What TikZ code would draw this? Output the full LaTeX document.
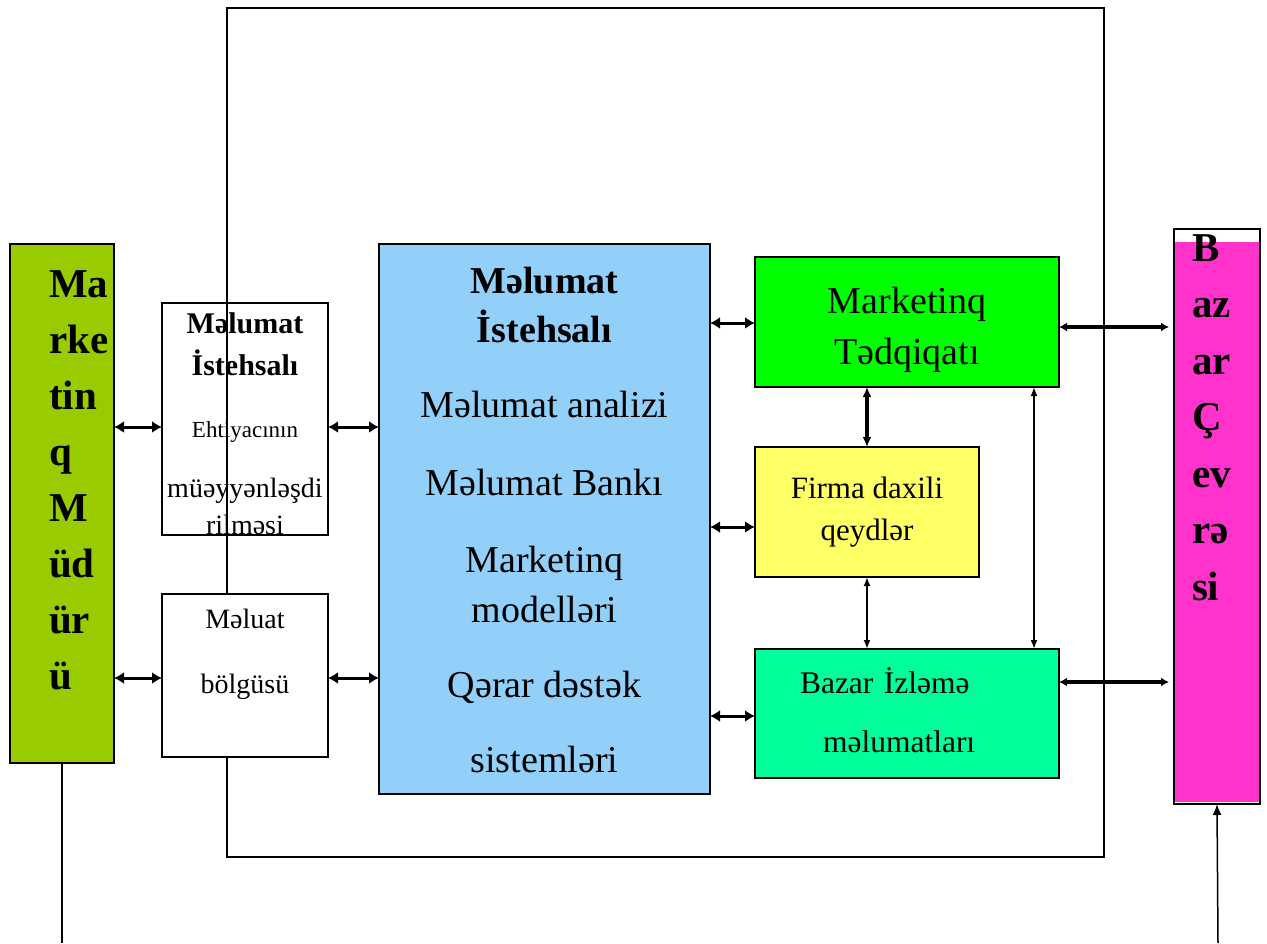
\documentclass[tikz,border=0pt]{standalone}
\usepackage{fontspec}
\setmainfont{Liberation Serif}
\usetikzlibrary{arrows.meta}
\definecolor{mgrgreen}{HTML}{99CC00}
\definecolor{prodblue}{HTML}{92D0F9}
\definecolor{resgreen}{HTML}{00FF00}
\definecolor{recyellow}{HTML}{FFFF66}
\definecolor{mongreen}{HTML}{00FF99}
\definecolor{envpink}{HTML}{FF33CC}
\tikzset{
    % Standard box, anchored at its top left corner
    infobox/.style={
        rectangle,
        draw=black,
        line width=1.5pt,
        fill=#1,
        inner sep=0pt,
        outer sep=0pt,
        anchor=north west,
        align=center
    },
    infobox/.default=white,
    % Arrow styles
    bigarrow/.style={
        {Latex[length=10pt,width=12pt]}-{Latex[length=10pt,width=12pt]},
        line width=3pt
    },
    sidearrow/.style={
        {Latex[length=8pt,width=9pt]}-{Latex[length=8pt,width=9pt]},
        line width=3.2pt
    },
    tallarrow/.style={
        {Latex[length=10pt,width=9pt]}-{Latex[length=10pt,width=9pt]},
        line width=3.8pt
    },
    smallarrow/.style={
        {Latex[length=9pt,width=7pt]}-{Latex[length=9pt,width=7pt]},
        line width=1.8pt
    }
}

\begin{document}
\begin{tikzpicture}[x=1pt, y=-1pt]
    \useasboundingbox (0,0) rectangle (1267,943);

    % Outer frame
    \node[infobox=none, line width=1.7pt, minimum width=877pt, minimum height=849pt] (frame) at (227,8) {};

    % Manager
    \node[infobox=mgrgreen, minimum width=104pt, minimum height=519pt, text width=26pt, align=left,
          font=\fontsize{41}{56.1}\selectfont\bfseries] (mgr) at (10,244)
        {\rule{0pt}{32pt}Ma\\rke\\tin\\q\\M\\üd\\ür\\ü\rule[-52pt]{0pt}{0pt}};

    % Left boxes
    \node[infobox=none, minimum width=166pt, minimum height=218pt,
          font=\fontsize{30}{37}\selectfont] (ehtiyac) at (162,303)
        {\textbf{\rule{0pt}{30pt}Məlumat}\\[5pt]\textbf{İstehsalı}\\[25pt]{\fontsize{23}{23}\selectfont Ehtiyacının}\\[23pt]{\fontsize{28}{28}\selectfont müəyyənləşdi}\\{\fontsize{28}{28}\selectfont rilməsi}\rule[-1pt]{0pt}{0pt}};
    \node[infobox, minimum width=166pt, minimum height=163pt,
          font=\fontsize{28}{65}\selectfont] (bolgu) at (162,594)
        {\rule{0pt}{20pt}Məluat\\bölgüsü\rule[-50pt]{0pt}{0pt}};

    % Central box
    \node[infobox=prodblue, minimum width=331pt, minimum height=550pt,
          font=\fontsize{38}{49}\selectfont] (prod) at (379,244)
        {\textbf{\rule{0pt}{28pt}Məlumat}\\\textbf{İstehsalı}\\[26pt]Məlumat analizi\\[29pt]Məlumat Bankı\\[28pt]Marketinq\\[1pt]modelləri\\[26pt]Qərar dəstək\\[26pt]sistemləri\rule[-1pt]{0pt}{0pt}};

    % Right boxes
    \node[infobox=resgreen, minimum width=304pt, minimum height=130pt,
          font=\fontsize{38}{51}\selectfont] (research) at (755,257)
        {\rule{0pt}{42pt}Marketinq\\Tədqiqatı\rule[-9pt]{0pt}{0pt}};
    \node[infobox=recyellow, minimum width=224pt, minimum height=130pt,
          font=\fontsize{31}{42}\selectfont] (records) at (755,447)
        {\rule{0pt}{22pt}Firma daxili\\qeydlər\rule[-8pt]{0pt}{0pt}};
    \node[infobox=mongreen, minimum width=304pt, minimum height=129pt, text width=214pt, align=left,
          font=\fontsize{31.5}{59}\selectfont] (monitor) at (755,649)
        {\rule{0pt}{28pt}Bazar İzləmə\\\hspace*{23pt}məlumatları\rule[-10pt]{0pt}{0pt}};

    % Environment
    \node[infobox, minimum width=86pt, minimum height=567pt, text width=50pt, align=left,
          font=\fontsize{41}{56.5}\selectfont\bfseries,
          path picture={\fill[envpink] ([yshift=-13pt]path picture bounding box.north west)
              rectangle ([yshift=2pt]path picture bounding box.south east);}] (env) at (1174,229)
        {\rule{0pt}{32pt}B\\az\\ar\\Ç\\ev\\rə\\si\rule[-204pt]{0pt}{0pt}};

    \coordinate (mgrfoot) at (62,943);
    \coordinate (envfoot) at (1218,943);

    % Manager to left boxes
    \draw[bigarrow] (mgr.east |- 0,427) -- (ehtiyac.west |- 0,427);
    \draw[bigarrow] (mgr.east |- 0,678) -- (bolgu.west |- 0,678);
    \draw[bigarrow] (ehtiyac.east |- 0,427) -- (prod.west |- 0,427);
    \draw[bigarrow] (bolgu.east |- 0,678) -- (prod.west |- 0,678);

    % Central box to right boxes
    \draw[bigarrow] (prod.east |- 0,323) -- (research.west |- 0,323);
    \draw[bigarrow] (prod.east |- 0,527) -- (records.west |- 0,527);
    \draw[bigarrow] (prod.east |- 0,716) -- (monitor.west |- 0,716);

    % Between right boxes
    \draw[tallarrow] (research.south -| records.north) -- (records.north);
    \draw[smallarrow] (records.south) -- (monitor.north -| records.south);
    \draw[smallarrow] (research.south -| 1034,0) -- (monitor.north -| 1034,0);

    % Right boxes to environment
    \draw[sidearrow, shorten >=5pt] (research.east |- 0,327) -- (env.west |- 0,327);
    \draw[sidearrow, shorten >=5pt] (monitor.east |- 0,682) -- (env.west |- 0,682);

    % Feet
    \draw[line width=1.6pt] (mgr.south) -- (mgrfoot);
    \draw[line width=1.5pt, -{Latex[length=11pt,width=9pt]}] (envfoot) -- (env.south);

\end{tikzpicture}
\end{document}
